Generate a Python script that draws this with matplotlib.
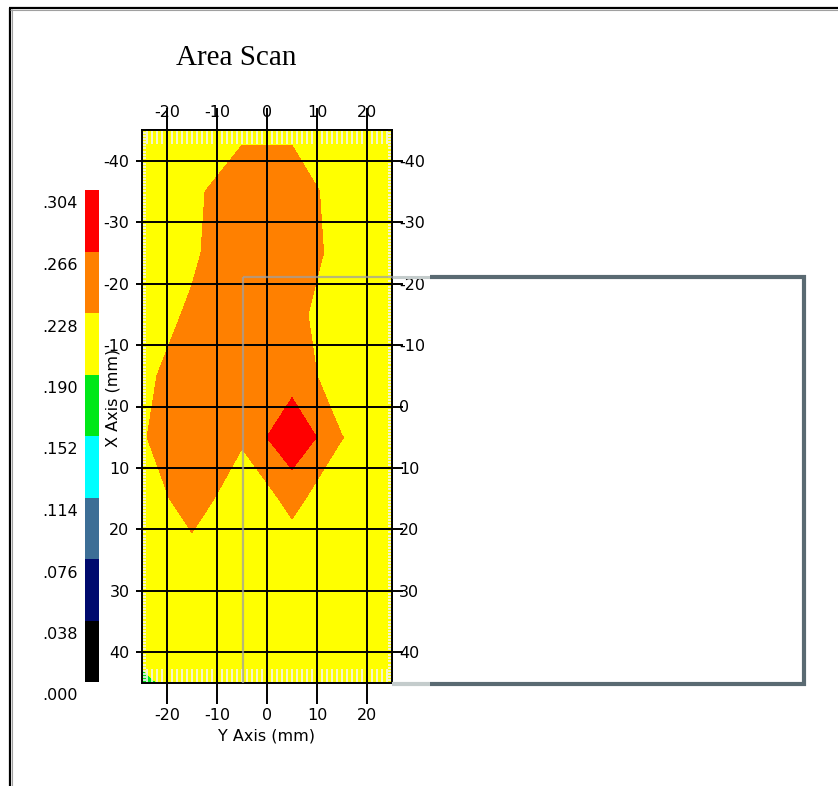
import matplotlib
matplotlib.use('Agg')
import matplotlib.pyplot as plt
import matplotlib.transforms as mtransforms
from matplotlib.colors import ListedColormap, BoundaryNorm
from matplotlib.lines import Line2D
from matplotlib.ticker import MultipleLocator
import numpy as np

plt.rcParams['font.family'] = ['DejaVu Sans']
plt.rcParams['axes.unicode_minus'] = False

# scan grid (mm)
y_pos = [-25, -15, -5, 5, 15, 25]                      # horizontal, "Y Axis"
x_pos = [-45, -35, -25, -15, -5, 5, 15, 25, 35, 45]    # vertical, "X Axis"

# amplitude, one row per x_pos
amp = [
    [0.213, 0.213, 0.223, 0.223, 0.213, 0.213],
    [0.213, 0.2227, 0.243, 0.243, 0.2157, 0.213],
    [0.213, 0.2236, 0.248, 0.248, 0.2163, 0.213],
    [0.2138, 0.232, 0.248, 0.236, 0.211, 0.213],
    [0.2216, 0.243, 0.248, 0.2459, 0.2101, 0.213],
    [0.2263, 0.243, 0.231, 0.3017, 0.2285, 0.213],
    [0.2148, 0.2388, 0.2143, 0.233, 0.2145, 0.213],
    [0.213, 0.2192, 0.213, 0.2178, 0.213, 0.213],
    [0.223, 0.213, 0.213, 0.213, 0.213, 0.213],
    [0.180, 0.213, 0.213, 0.213, 0.213, 0.213],
]

levels = [0.000, 0.038, 0.076, 0.114, 0.152, 0.190, 0.228, 0.266, 0.304]
level_labels = ['.000', '.038', '.076', '.114', '.152', '.190', '.228', '.266', '.304']
colors = ['#000000', '#000a6e', '#3c6e96', '#00ffff', '#00e818',
          '#ffff00', '#ff8000', '#ff0000']

W, H = 838, 786
fig = plt.figure(figsize=(W / 100, H / 100), dpi=100)


def fx(x):
    return x / W


def fy(y):
    return 1 - y / H


cmap = ListedColormap(colors)
norm = BoundaryNorm(levels, cmap.N)

ax = fig.add_axes([fx(142), fy(683), (392 - 142) / W, (683 - 130) / H])
cs = ax.contourf(y_pos, x_pos, np.array(amp), levels=levels, cmap=cmap, norm=norm)
ax.set_xlim(-25, 25)
ax.set_ylim(45, -45)
ax.set_xticks([-20, -10, 0, 10, 20])
ax.set_yticks([-40, -30, -20, -10, 0, 10, 20, 30, 40])
ax.xaxis.set_minor_locator(MultipleLocator(1))
ax.yaxis.set_minor_locator(MultipleLocator(0.5))
ax.grid(True, which='major', color='black', lw=1.4)
for s in ax.spines.values():
    s.set_linewidth(1.4)

ax.tick_params(which='major', length=15, width=1.4, labelsize=11.5, pad=3,
               left=True, right=False, top=False, bottom=True)
ax.tick_params(axis='y', which='major', length=4, pad=5)
ax.tick_params(axis='x', which='minor', direction='in', length=10, width=1.2,
               color='#f4f4f4', top=True, bottom=True)
ax.tick_params(axis='y', which='minor', direction='in', length=3, width=1.2,
               color='#f4f4f4', left=True, right=True)

top = ax.secondary_xaxis('top')
top.set_xticks([-20, -10, 0, 10, 20])
top.tick_params(length=16, width=1.4, labelsize=11.5, pad=-9)
top.spines['top'].set_linewidth(1.4)
right = ax.secondary_yaxis('right')
right.set_yticks([-40, -30, -20, -10, 0, 10, 20, 30, 40])
right.tick_params(length=8, width=1.4, labelsize=11.5, pad=-3)
right.spines['right'].set_linewidth(1.4)

ax.set_xlabel('Y Axis (mm)', fontsize=11.5)
ax.xaxis.set_label_coords(0.5, -0.083)
ax.set_ylabel('X Axis (mm)', fontsize=11.5)
ax.yaxis.set_label_coords(-0.088, 0.515)

# colour scale
cax = fig.add_axes([fx(85), fy(682), 14 / W, (682 - 190) / H])
cbar = fig.colorbar(cs, cax=cax, ticks=[])
cbar.outline.set_visible(False)
cax.minorticks_off()
cax.tick_params(which='both', length=0, labelright=False)
lab_tr = mtransforms.offset_copy(
    mtransforms.blended_transform_factory(cax.transAxes, cax.transData),
    fig=fig, y=-14, units='dots')
for lv, txt in zip(levels, level_labels):
    cax.text(-0.5, lv, txt, transform=lab_tr, ha='right', va='center', fontsize=11.5)

fig.text(fx(236), fy(65), 'Area Scan', family='Liberation Serif', fontsize=21,
         ha='center', va='baseline')

# grey overlay frame
def seg(x0, y0, x1, y1, color, lw, alpha=1.0):
    fig.add_artist(Line2D([fx(x0), fx(x1)], [fy(y0), fy(y1)], color=color, lw=lw,
                          alpha=alpha, transform=fig.transFigure, solid_capstyle='butt'))


seg(243, 277, 243, 683, '#a0a0a0', 1.6, 0.75)
seg(243, 277, 392, 277, '#a0a0a0', 1.6, 0.75)
seg(392, 277, 430, 277, '#c4cccc', 2.2)
seg(392, 684, 430, 684, '#c4cccc', 3.0)
seg(430, 277, 806, 277, '#5a6a72', 3.0)
seg(430, 684, 806, 684, '#5a6a72', 3.0)
seg(803.5, 275, 803.5, 686, '#5a6a72', 3.0)

# outer window border
seg(9.5, 8, 9.5, 786, 'black', 1.6)
seg(9, 8, 838, 8, 'black', 1.6)
seg(11.5, 9, 11.5, 786, '#a0a0a0', 0.8)
seg(10, 10, 838, 10, '#a0a0a0', 0.8)

fig.savefig('out.png', dpi=100)
